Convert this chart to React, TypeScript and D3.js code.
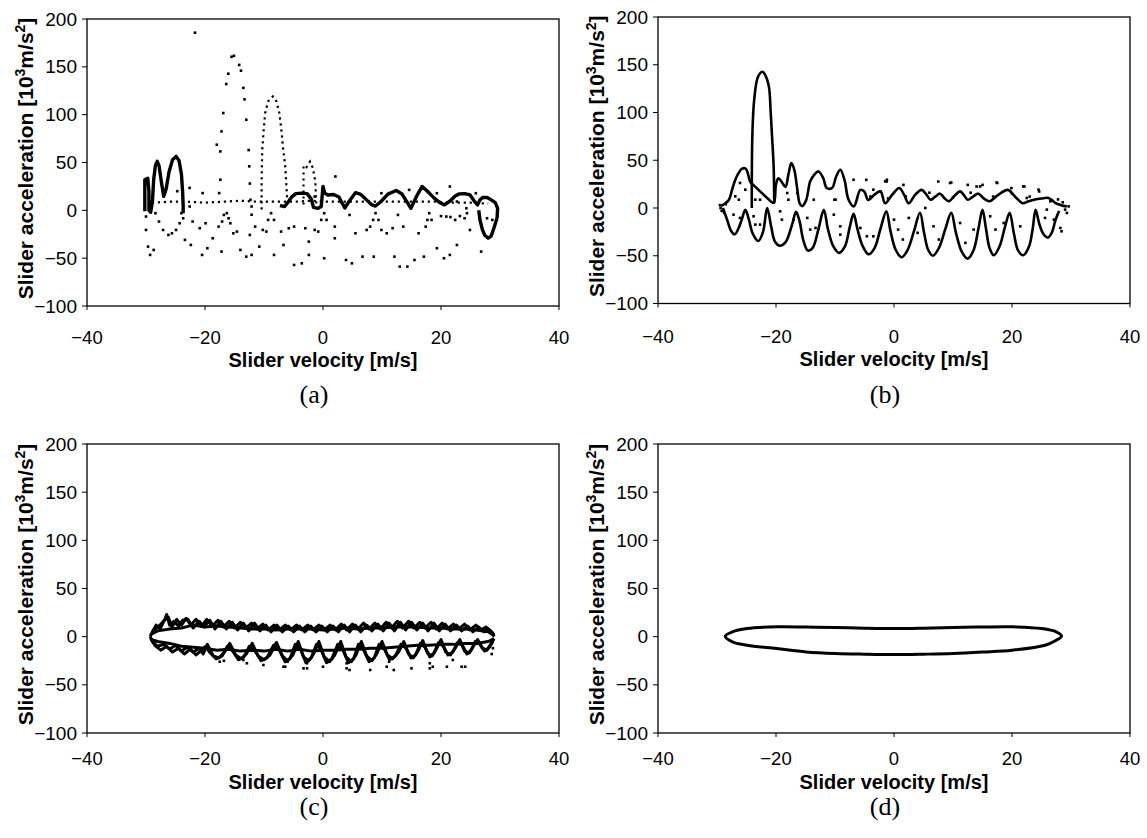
import React from "react";
import * as d3 from "d3";

type P = [number, number];

const xTicks = [-40, -20, 0, 20, 40];
const yTicks = [-100, -50, 0, 50, 100, 150, 200];
const captions = ["(a)", "(b)", "(c)", "(d)"];
const xTitle = "Slider velocity [m/s]";

// ---- (a) ----
const aSolidLeft: P[] = [
  [-30.2, -1], [-30.2, 32], [-29.7, 33.5], [-29.5, 20], [-29.5, 0], [-29.2, -2], [-28.9, 10],
  [-28.7, 32], [-28.4, 47], [-28.1, 51.2], [-27.8, 47], [-27.4, 30], [-27.0, 14.6], [-26.6, 22],
  [-26.1, 40], [-25.5, 53], [-24.9, 56.4], [-24.4, 52], [-24.0, 38], [-23.8, 20], [-23.7, 5], [-23.7, -3],
];
const aSolidRight: P[] = [
  [-7.3, 5], [-6.5, 4], [-6.0, 8], [-5.3, 14], [-4.6, 17.5], [-3.6, 18], [-2.7, 17.5], [-2.0, 12],
  [-1.6, 3], [-0.9, 2], [-0.3, 4], [0.0, 25], [0.3, 18], [0.8, 16], [1.8, 16.5], [2.7, 14], [3.2, 8],
  [3.7, 2.5], [4.5, 10], [5.5, 18.5], [6.3, 17], [7.2, 12], [8.2, 6], [8.9, 4.5], [9.8, 9], [11.0, 17],
  [12.4, 20.7], [13.4, 17], [14.2, 9], [14.9, 2.2], [15.8, 14], [16.8, 25], [17.7, 20], [18.8, 13],
  [19.8, 8], [20.6, 5.7], [21.6, 10], [22.4, 15], [23.1, 17.2], [24.0, 17.5], [24.9, 16.2], [25.6, 10],
  [26.2, 5.7], [26.6, 11], [27.1, 13.5], [27.8, 13.4], [28.5, 11], [29.2, 8], [29.6, 2], [29.5, -8],
  [29.0, -18], [28.5, -27], [28.0, -29], [27.4, -26], [27.0, -20], [26.6, -10], [26.4, 0],
];
const aPeakMid: P[] = [
  [-10.4, 1], [-10.4, 32], [-10.3, 63], [-10.1, 81], [-9.8, 101.7], [-9.3, 113.9], [-8.5, 119.1],
  [-7.9, 114], [-7.4, 101.7], [-7.0, 80.8], [-6.8, 66.8], [-6.4, 45.9], [-6.2, 25], [-6.0, 5],
];
const aPeakSmall: P[] = [
  [-3.3, 6], [-3.3, 47], [-2.8, 45], [-2.2, 51], [-1.7, 44], [-1.3, 30], [-1.2, 15], [-1.1, 2],
];
const aFlat: P[] = [
  [-29.0, 8], [-26, 9], [-23, 9], [-20, 8], [-17, 9], [-14, 10], [-11, 9], [-8, 9], [-5, 9], [-2, 10],
  [1, 9], [4, 9], [7, 9], [10, 9], [13, 9], [16, 9], [19, 9], [22, 8], [25, 8], [28, 7],
];
const aDots: P[] = [
  [-17.6, 18], [-17.4, 32], [-17.4, 61.6], [-18.0, 68.6], [-17.2, 82.5], [-16.9, 101.7], [-16.4, 132],
  [-16.05, 142.8], [-15.5, 160.5], [-15.1, 161.5], [-14.2, 152], [-13.9, 146], [-13.5, 128], [-13.3, 116],
  [-13.0, 94.7], [-12.6, 63], [-12.5, 46], [-12.4, 28], [-12.3, 11],
  [-21.7, 185.7], [2.1, 35.4],
  [-22.6, 23.5], [-20.4, 18], [-24.7, 20], [-1.4, 14.4], [9.9, 17.9], [14.6, 21.4], [19.3, 17.9],
  [21.5, 24.9], [25.9, 17.9], [22.7, 9.2], [24.3, 2.2], [-12.1, -4.6], [-12.1, 4], [-22.6, 4], [-24, -3],
  [-29.65, -37.9], [-29.3, -46.6], [-28.7, -41.4], [-30.0, -20.5], [-30.0, -6.5], [-28.4, -3], [-27.8, -11.7],
  [-27.1, -20.5], [-26.2, -25.7], [-25.6, -24], [-24.9, -20.5], [-24.3, -13.5], [-23.7, -8.3], [-23.4, -30.9],
  [-22.4, -36.2], [-22.1, -11.7], [-20.5, -46.6], [-19.6, -39.6], [-18.7, -29.2], [-17.7, -17], [-17.2, -43.1],
  [-20.9, -18.7], [-19.9, -13.5],
  [-17.1, -11.7], [-16.8, -4.8], [-16.3, -3], [-16.0, -8.3], [-15.7, -13.5],
  [-15.2, -24], [-14.6, -22.2], [-14.0, -41.4], [-13.0, -48.4], [-12.1, -46.6], [-12.4, -25.7], [-11.5, -17],
  [-10.8, -37.9], [-10.2, -20.5], [-9.6, -22.2],
  [-9.3, -10], [-8.8, -3], [-8.3, -10],
  [-8.3, -46.6], [-7.1, -22.2], [-6.7, -36.2], [-5.8, -18.7], [-4.9, -17], [-4.9, -57.1], [-3.6, -55.4],
  [-3.0, -18.7], [-2.4, -32.7], [-2.4, -46.6], [-1.4, -20.5], [-0.8, -22.2],
  [-0.3, -10], [0.2, -3], [0.6, -10],
  [0.2, -50.1], [2.0, -29.2], [2.0, -17], [3.9, -51.9], [4.9, -55.4], [4.5, -4.8], [5.5, -24], [6.7, -48.4],
  [7.4, -20.5], [8.0, -17],
  [8.5, -10], [8.9, -3], [9.4, -10],
  [8.6, -48.4], [9.9, -20.5], [10.8, -24], [11.8, -18.7], [12.1, -48.4], [13.0, -58.8], [14.3, -58.8],
  [12.7, -4.8], [13.6, -17], [15.5, -51.9], [16.2, -24], [17.1, -48.4], [17.4, -17],
  [17.7, -10], [18.0, -3], [18.4, -10],
  [19.3, -39.6], [20.5, -50.1], [20.9, -6.5], [21.5, -46.6], [22.4, -10], [22.7, -36.2], [24.0, -8.3],
  [24.4, -3], [24.9, -20.5], [26.8, -43.1], [27.8, -8.3], [28.7, -10], [20.0, -6], [21.6, -7], [23.2, -6],
];

// ---- (b) ----
const bUpper: P[] = [
  [-29.3, 2], [-28.6, 5], [-28.0, 8.4], [-27.4, 20], [-26.9, 29.6], [-26.3, 37], [-25.8, 41], [-25.2, 41.5],
  [-24.9, 38.8], [-24.4, 28], [-23.9, 24.4], [-22.7, 17.4], [-21.5, 10.5], [-20.4, 5.3], [-20.0, 25],
  [-19.6, 31], [-19.0, 27], [-18.4, 22], [-17.9, 35], [-17.4, 47], [-16.9, 40], [-16.4, 20], [-16.0, 5],
  [-15.6, 2], [-14.9, 8], [-14.2, 27.9], [-13.5, 35], [-12.8, 38.3], [-12.0, 31.4], [-11.4, 20.9],
  [-10.5, 21], [-9.8, 33], [-9.1, 40], [-8.4, 29.6], [-7.7, 8.7], [-6.8, 1.7], [-5.7, 19], [-5.0, 17],
  [-4.4, 8.5], [-3.3, 14], [-2.3, 17.5], [-1.5, 5], [-0.3, 14], [0.9, 21], [1.7, 14], [2.5, 5], [3.6, 14],
  [4.7, 19], [5.5, 14], [6.2, 8.6], [7.0, 12], [7.8, 15], [8.6, 10], [9.3, 7], [10.3, 13], [11.2, 17.4],
  [11.9, 13], [12.5, 8.6], [13.4, 12], [14.3, 15], [15.2, 10], [16.2, 7], [17.5, 13], [19.3, 19],
  [20.5, 12], [21.8, 5], [22.8, 7], [23.7, 8.6], [25.0, 10], [26.2, 10.5], [27.0, 7], [27.4, 5],
  [28.3, 3], [29.3, 1.6],
];
const bSpike: P[] = [
  [-24.1, 0], [-24.1, 30], [-24.0, 78], [-23.7, 113], [-23.05, 137.4], [-22.3, 142.6], [-21.8, 139],
  [-21.2, 126.9], [-20.9, 100], [-20.7, 78.2], [-20.4, 43.4], [-20.3, 5],
];
const bLower: P[] = [
  [-29.0, 0], [-28.3, -12], [-27.6, -24], [-27.0, -27.5], [-26.4, -22], [-25.8, -12], [-25.2, -2],
  [-24.6, -12], [-24.0, -26], [-23.0, -34.5], [-22.2, -25], [-21.5, 0], [-20.8, -20], [-20.2, -35],
  [-19.4, -39.5], [-18.4, -36], [-17.3, -18], [-16.6, -4], [-16.0, -14], [-15.4, -33], [-14.6, -44.5],
  [-13.8, -42], [-12.8, -22], [-11.9, -2], [-11.2, -22], [-10.3, -40], [-9.3, -47], [-8.3, -40],
  [-7.5, -20], [-6.85, -6], [-6.2, -22], [-5.3, -40], [-4.3, -48.5], [-3.3, -42], [-2.3, -22],
  [-1.3, -3.5], [-0.6, -24], [0.3, -44], [1.3, -51.5], [2.3, -44], [3.4, -24], [4.4, -5], [5.1, -26],
  [5.8, -44], [6.6, -50], [7.6, -42], [8.7, -22], [9.7, -5], [10.5, -26], [11.5, -46], [12.5, -53],
  [13.5, -44], [14.3, -22], [15.0, -2], [15.6, -22], [16.2, -42], [16.9, -49.5], [17.9, -40], [18.8, -20],
  [19.6, -5], [20.3, -26], [21.0, -44], [21.9, -49.5], [22.9, -40], [23.5, -22], [24.0, -2], [24.6, -16],
  [25.3, -27], [26.1, -31], [26.8, -25], [27.4, -12], [28.0, -3],
];
const bDots: P[] = [
  [-26.9, 12.2], [-26.3, 8.7], [-27.2, -7], [-26.1, -10.4], [-25.2, 19.2], [-26.1, 26.2], [-23.5, 8.7],
  [-22.7, 8.7], [-23.5, -17.4], [-22.7, -17.4], [-23.8, -8.7], [-19.3, -3.5], [-19.0, -12.2], [-18.1, 15.7],
  [-17.9, 8.7], [-16.4, 15.7], [-17.0, -12.2], [-14.7, -10.4], [-13.6, 8.7], [-14.2, -22.6], [-13.3, -20.9],
  [-10.2, -7], [-10.1, 8.7], [-9.1, -19.2], [-9.1, -27.9], [-9.9, 8.7], [-6.85, 29.6], [-5.7, -20.9],
  [-4.6, -29.6], [-3.5, -29.6], [-3.5, 19.2], [-2.3, 17.4], [-1.2, 29.6],
  [-1.5, 27.9], [0.0, -12.2], [0.7, -22.6], [1.5, -33], [2.5, -10.4], [4.0, -26], [5.3, 0], [6.7, -19.2],
  [7.6, -33], [9.5, 26.2], [11.2, -15.7], [12.1, -36.5], [13.5, -22.6], [14.6, 22.6], [16.3, -8.7],
  [17.5, 26.2], [17.2, -22.6], [18.6, -15.7], [21.4, -19.2], [21.9, 22.6], [22.5, 10.5], [24.5, 19.2],
  [25.6, -10.4], [25.9, -1.7], [27.1, -12.2], [28.2, -20.9], [28.4, -24.4], [29.0, -1.7], [29.6, 1.7],
  [29.3, -5.2], [-4.7, 29.5], [-1.25, 27.7], [1.6, 24.2], [9.7, 26.7], [14.0, 22.5], [17.4, 26.7],
  [19.9, 20.8], [22.1, 22.5], [24.6, 17.3], [7.5, 27.7], [15.0, 24.2], [12.5, 24.2],
  [-29.5, 3], [-29.2, -3], [-28.8, -5], [-28.5, 4], [-29.4, 0],
  [-4.0, 12], [-1.0, 10], [2.0, 12], [6.0, 16], [10.0, 11], [13.0, 16], [16.8, 12], [20.0, 15], [23.0, 12],
  [26.5, 7], [27.8, 9], [28.6, 6],
];

// ---- (c) ----
const cUpper: P[] = [
  [-29.3, 0], [-28.8, 6], [-28.0, 10], [-27.3, 14], [-26.8, 18], [-26.5, 23], [-26.0, 12], [-25.3, 16],
  [-24.5, 11], [-23.8, 17], [-22.9, 18], [-22.0, 9], [-21.0, 16], [-20.2, 10], [-19.2, 17], [-18.3, 8],
  [-17.3, 16], [-16.4, 8], [-15.4, 15], [-14.5, 7], [-13.5, 14], [-12.6, 6], [-11.6, 14], [-10.7, 6],
  [-9.7, 12], [-8.8, 5], [-7.8, 12], [-6.9, 5], [-5.9, 11], [-5.0, 5], [-4.0, 11], [-3.1, 5], [-2.1, 11],
  [-1.2, 5], [-0.2, 11], [0.7, 5], [1.7, 11], [2.6, 5], [3.6, 12], [4.5, 5], [5.5, 12], [6.4, 5],
  [7.4, 12], [8.3, 6], [9.3, 13], [10.2, 6], [11.2, 14], [12.1, 6], [13.1, 15], [14.0, 7], [15.0, 15],
  [15.9, 7], [16.9, 14], [17.8, 6], [18.8, 14], [19.7, 6], [20.7, 13], [21.6, 6], [22.6, 12], [23.5, 6],
  [24.5, 11], [25.4, 5], [26.4, 10], [27.3, 5], [28.0, 8], [28.7, 4], [29.0, 0],
];
const cUpper2: P[] = [
  [-29.3, 2], [-28, 6], [-26, 8], [-24, 9], [-22, 12], [-20, 10], [-18, 11], [-16, 10], [-14, 9],
  [-12, 8], [-10, 8], [-8, 7], [-6, 8], [-4, 8], [-2, 8], [0, 7], [2, 8], [4, 9], [6, 8], [8, 9],
  [10, 9], [12, 10], [14, 10], [16, 10], [18, 9], [20, 9], [22, 8], [24, 8], [26, 7], [28, 5], [29, 1],
];
const cUpper3: P[] = [
  [-29.0, 4], [-28.3, 12], [-27.6, 8], [-26.9, 17], [-26.2, 20], [-25.6, 10], [-24.8, 18], [-24.0, 12],
  [-23.2, 19], [-22.4, 12], [-21.5, 18], [-20.6, 11], [-19.7, 18], [-18.8, 11], [-17.8, 17], [-16.9, 10],
  [-15.9, 16], [-15.0, 9], [-14.0, 15], [-13.1, 9], [-12.1, 14], [-11.2, 8], [-10.2, 13], [-9.3, 7],
  [-8.3, 12], [-7.4, 7], [-6.4, 12], [-5.5, 7], [-4.5, 12], [-3.6, 7], [-2.6, 12], [-1.7, 7], [-0.7, 12],
  [0.2, 7], [1.2, 12], [2.1, 7], [3.1, 13], [4.0, 7], [5.0, 13], [5.9, 8], [6.9, 14], [7.8, 8], [8.8, 14],
  [9.7, 8], [10.7, 15], [11.6, 9], [12.6, 16], [13.5, 9], [14.5, 16], [15.4, 9], [16.4, 15], [17.3, 9],
  [18.3, 15], [19.2, 8], [20.2, 14], [21.1, 8], [22.1, 13], [23.0, 8], [24.0, 13], [24.9, 7], [25.9, 12],
  [26.8, 7], [27.6, 10], [28.4, 6], [29.0, 2],
];
const cLower: P[] = [
  [-29.3, 0], [-28.8, -6], [-28.0, -10], [-27.0, -8], [-26.0, -13], [-25.0, -9], [-24.0, -15],
  [-23.0, -11], [-22.0, -16], [-21.0, -12], [-20.3, -18], [-19.6, -8], [-18.6, -20], [-17.6, -22],
  [-16.7, -16], [-15.8, -7], [-14.8, -19], [-13.9, -23], [-13.0, -18], [-12.0, -7], [-11.0, -20],
  [-10.0, -24], [-9.0, -19], [-7.9, -6], [-6.9, -20], [-6.0, -25], [-5.1, -19], [-4.2, -5], [-3.3, -21],
  [-2.4, -25], [-1.6, -18], [-0.7, -5], [0.2, -21], [1.1, -26], [2.0, -19], [3.0, -5], [3.9, -21],
  [4.8, -26], [5.6, -19], [6.5, -5], [7.4, -20], [8.3, -25], [9.1, -18], [10.0, -5], [10.9, -19],
  [11.8, -23], [12.8, -16], [13.7, -5], [14.5, -18], [15.3, -22], [16.1, -15], [16.9, -4], [17.7, -17],
  [18.5, -20], [19.2, -13], [20.0, -3], [20.8, -16], [21.6, -19], [22.4, -12], [23.2, -3], [24.0, -15],
  [24.8, -17], [25.5, -10], [26.2, -3], [27.0, -12], [27.8, -14], [28.5, -7], [29.0, -2],
];
const cLower2: P[] = [
  [-29.2, -3], [-28, -5], [-26, -7], [-24, -10], [-22, -11], [-20, -12], [-18, -14], [-16, -13],
  [-14, -15], [-12, -14], [-10, -15], [-8, -13], [-6, -15], [-4, -13], [-2, -15], [0, -14], [2, -14],
  [4, -13], [6, -13], [8, -12], [10, -12], [12, -11], [14, -10], [16, -9], [18, -9], [20, -8], [22, -8],
  [24, -7], [26, -7], [28, -5], [29, -2],
];
const cLower3: P[] = [
  [-29.2, -2], [-28.5, -9], [-27.5, -14], [-26.5, -10], [-25.5, -16], [-24.5, -12], [-23.5, -18],
  [-22.5, -13], [-21.5, -19], [-20.6, -14], [-19.9, -10], [-19.1, -17], [-18.1, -23], [-17.1, -20],
  [-16.2, -10], [-15.3, -15], [-14.3, -24], [-13.4, -21], [-12.5, -10], [-11.5, -15], [-10.5, -25],
  [-9.5, -22], [-8.4, -9], [-7.4, -14], [-6.4, -26], [-5.6, -23], [-4.7, -8], [-3.8, -13], [-2.9, -27],
  [-2.0, -22], [-1.1, -8], [-0.3, -14], [0.6, -27], [1.5, -23], [2.5, -8], [3.4, -14], [4.3, -27],
  [5.2, -23], [6.0, -8], [6.9, -14], [7.8, -26], [8.7, -22], [9.5, -8], [10.4, -13], [11.3, -24],
  [12.3, -20], [13.2, -8], [14.1, -12], [14.9, -22], [15.7, -19], [16.5, -7], [17.3, -11], [18.1, -21],
  [18.8, -17], [19.6, -6], [20.4, -10], [21.2, -19], [22.0, -16], [22.8, -6], [23.6, -9], [24.4, -18],
  [25.1, -14], [25.8, -5], [26.6, -8], [27.4, -15], [28.2, -11], [28.8, -5],
];
const cDots: P[] = [
  [-13.5, -24.2], [-12.9, -27.6], [-10.1, -29.4], [-6.7, -31.2], [-6.4, -31.2], [-3.3, -32.9],
  [-2.7, -32.9], [0.0, -31.2], [4.0, -32.9], [4.5, -34.6], [8.0, -34.6], [10.8, -31.2], [12.0, -34.6],
  [15.0, -32.9], [18.1, -32.9], [18.6, -31.2], [21.0, -31.2], [23.5, -31.2], [24.1, -31.2],
  [-6.0, -26], [-2.7, -27.6], [4.0, -27.6], [11.2, -26], [18.1, -27.6], [22.0, -24.2],
  [-17.5, -26], [-16.8, -25], [28.6, -18], [28.8, -12],
];

// ---- (d) ----
const dLoop: P[] = [
  [-28.6, 0.5], [-27.4, 5.0], [-24.9, 8.4], [-19.9, 10.2], [-14.9, 10.0], [-9.9, 9.5], [-5.0, 8.8],
  [0.1, 8.4], [5.0, 8.8], [10.0, 9.5], [15.0, 10.0], [20.0, 10.2], [25.0, 8.4], [27.5, 5.0], [28.4, 0.5],
  [27.5, -3.7], [25.6, -8.9], [20.0, -14.1], [15.0, -16.0], [10.0, -17.5], [5.0, -18.2], [0.1, -18.6],
  [-5.0, -18.2], [-9.9, -17.5], [-14.9, -15.8], [-19.9, -12.3], [-24.9, -8.9], [-27.4, -5.4],
];

const W = 472;
const layout = [
  { left: 87, top: 19, bottom: 306, tickDy: 38, titleDy: 61, capDy: 97 },
  { left: 658, top: 17, bottom: 303.5, tickDy: 39, titleDy: 62, capDy: 99 },
  { left: 87, top: 444, bottom: 733, tickDy: 32, titleDy: 56, capDy: 82 },
  { left: 658, top: 444, bottom: 733, tickDy: 32, titleDy: 56, capDy: 82 },
];

const SANS = "'Liberation Sans', Arial, Helvetica, sans-serif";
const SERIF = "'Liberation Serif', 'Times New Roman', serif";
const fmt = d3.format("d");

type Series = {
  solid: P[][];
  solidWidth: number;
  smooth: boolean;
  dotted: P[][];
  dots: P[];
  closed?: P[];
};

const series: Series[] = [
  { solid: [aSolidLeft, aSolidRight], solidWidth: 3.4, smooth: false, dotted: [aPeakMid, aPeakSmall, aFlat], dots: aDots },
  { solid: [bUpper, bLower, bSpike], solidWidth: 2.6, smooth: true, dotted: [], dots: bDots },
  { solid: [cUpper, cUpper2, cUpper3, cLower, cLower2, cLower3], solidWidth: 3, smooth: false, dotted: [], dots: cDots },
  { solid: [], solidWidth: 3, smooth: false, dotted: [], dots: [], closed: dLoop },
];

function Panel({ idx }: { idx: number }) {
  const L = layout[idx];
  const s = series[idx];
  const x = d3.scaleLinear().domain([-40, 40]).range([L.left, L.left + W]);
  const y = d3.scaleLinear().domain([-100, 200]).range([L.bottom, L.top]);
  const line = d3.line<P>().x(d => x(d[0])).y(d => y(d[1]));
  const solidLine = d3.line<P>().x(d => x(d[0])).y(d => y(d[1]))
    .curve(s.smooth ? d3.curveCatmullRom.alpha(0.5) : d3.curveLinear);
  const loop = d3.line<P>().x(d => x(d[0])).y(d => y(d[1])).curve(d3.curveCatmullRomClosed);
  const cx = L.left + W / 2;
  const cy = (L.top + L.bottom) / 2 - 4;
  return (
    <g>
      <rect x={L.left} y={L.top} width={W} height={L.bottom - L.top} fill="none" stroke="#000" strokeWidth={1.3} />
      {yTicks.map(t => (
        <g key={"y" + t}>
          <line x1={L.left - 5} x2={L.left} y1={y(t)} y2={y(t)} stroke="#000" strokeWidth={1} />
          <text x={L.left - 10} y={y(t)} dy="0.35em" textAnchor="end" fontSize={19} fontFamily={SANS}>{fmt(t)}</text>
        </g>
      ))}
      {xTicks.map(t => (
        <g key={"x" + t}>
          <line x1={x(t)} x2={x(t)} y1={L.bottom} y2={L.bottom + 4} stroke="#000" strokeWidth={1} />
          <text x={x(t)} y={L.bottom + L.tickDy} textAnchor="middle" fontSize={18.5} fontFamily={SANS}>{fmt(t)}</text>
        </g>
      ))}
      <text x={cx} y={L.bottom + L.titleDy} textAnchor="middle" fontSize={20} fontWeight="bold" fontFamily={SANS}>{xTitle}</text>
      <text transform={`translate(${L.left - 54},${cy}) rotate(-90)`} textAnchor="middle" fontSize={21} fontWeight="bold" fontFamily={SANS}>
        Slider acceleration [10<tspan dy={-8} fontSize={14}>3</tspan><tspan dy={8}>m/s</tspan><tspan dy={-8} fontSize={14}>2</tspan><tspan dy={8}>]</tspan>
      </text>
      <text x={cx - 9} y={L.bottom + L.capDy} textAnchor="middle" fontSize={26} fontFamily={SERIF}>{captions[idx]}</text>
      {s.dotted.map((d, i) => (
        <path key={"dt" + i} d={line(d) || ""} fill="none" stroke="#000" strokeWidth={2.2} strokeDasharray="2.2 3.8" />
      ))}
      {s.solid.map((d, i) => (
        <path key={"sl" + i} d={solidLine(d) || ""} fill="none" stroke="#000" strokeWidth={s.solidWidth} strokeLinejoin="round" />
      ))}
      {s.closed && <path d={loop(s.closed) || ""} fill="none" stroke="#000" strokeWidth={s.solidWidth} />}
      {s.dots.map((d, i) => (
        <rect key={"d" + i} x={x(d[0]) - 1.3} y={y(d[1]) - 1.3} width={2.6} height={2.6} fill="#000" />
      ))}
    </g>
  );
}

export default function App() {
  return (
    <svg width={1147} height={838} style={{ position: "absolute", left: 0, top: 0, background: "#fff" }}>
      {layout.map((_, i) => <Panel key={i} idx={i} />)}
    </svg>
  );
}
